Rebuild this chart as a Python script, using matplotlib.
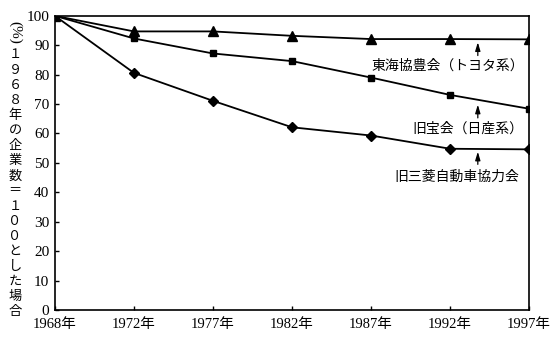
import matplotlib
matplotlib.use('Agg')
import matplotlib.pyplot as plt

# data (1968 = 100)
years = ['1968年', '1972年', '1977年', '1982年', '1987年', '1992年', '1997年']
toyota = [100, 94.7, 94.7, 93.2, 92.1, 92.1, 92.0]
nissan = [100, 92.3, 87.2, 84.6, 79.0, 73.1, 68.4]
mitsubishi = [100, 80.6, 71.1, 62.1, 59.3, 54.8, 54.6]
yticks = [0, 10, 20, 30, 40, 50, 60, 70, 80, 90, 100]

label_toyota = '東海協豊会（トヨタ系）'
label_nissan = '旧宝会（日産系）'
label_mitsu = '旧三菱自動車協力会'
ylabel = '１９６８年の企業数＝１００とした場合'

serif = ['Liberation Serif', 'Noto Sans CJK JP']
cjk = ['Noto Sans CJK JP', 'DejaVu Sans']

fig = plt.figure(figsize=(5.6, 3.44), dpi=100)
ax = fig.add_axes([0.098, 0.099, 0.847, 0.855])

x = list(range(len(years)))
ax.plot(x, toyota, color='black', lw=1.3, marker='^', ms=7.5)
ax.plot(x, nissan, color='black', lw=1.3, marker='s', ms=5)
ax.plot(x, mitsubishi, color='black', lw=1.3, marker='D', ms=5)

ax.set_xlim(0, 6)
ax.set_ylim(0, 100)
ax.set_xticks(x)
ax.set_xticklabels(years, family=serif, fontsize=10.5)
ax.set_yticks(yticks)
ax.set_yticklabels([str(v) for v in yticks], family=serif, fontsize=11)
ax.tick_params(direction='in', length=3, width=1)
ax.tick_params(axis='x', pad=6)
ax.tick_params(axis='y', pad=4)
for s in ax.spines.values():
    s.set_linewidth(1.2)

# vertical y label, one character at a time from top to bottom
top_px, bottom_px = 55, 312
step = (bottom_px - top_px) / (len(ylabel) - 1)
for i, ch in enumerate(ylabel):
    ypx = top_px + i * step
    fig.text(0.027, 1 - ypx / 344, ch, family=cjk, fontsize=9.5,
             ha='center', va='center')
fig.text(0.027, 0.905, '(%)', family=serif, fontsize=11, ha='center',
         va='center', rotation=-90)

# annotations with small arrows
arrow = dict(arrowstyle='-|>,head_length=0.5,head_width=0.15', color='black',
             lw=0.9, shrinkA=0, shrinkB=0)
ax.annotate('', xy=(5.35, 91.0), xytext=(5.35, 86.5), arrowprops=arrow)
ax.text(4.97, 83, label_toyota, family=cjk, fontsize=10, ha='center', va='center')
ax.annotate('', xy=(5.35, 69.8), xytext=(5.35, 65.3), arrowprops=arrow)
ax.text(5.23, 61.8, label_nissan, family=cjk, fontsize=10, ha='center', va='center')
ax.annotate('', xy=(5.35, 53.8), xytext=(5.35, 49.5), arrowprops=arrow)
ax.text(5.09, 45.2, label_mitsu, family=cjk, fontsize=10, ha='center', va='center')

fig.savefig('out.png', dpi=100)
